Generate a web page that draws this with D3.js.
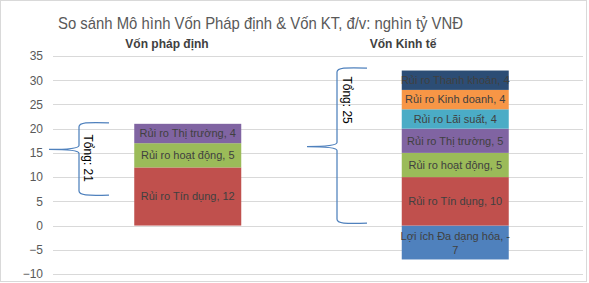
<!DOCTYPE html>
<html>
<head>
<meta charset="utf-8">
<script src="https://cdn.jsdelivr.net/npm/d3@7"></script>
<style>
  body { margin: 0; background: #fff; }
  svg { font-family: "Liberation Sans", Arial, sans-serif; }
</style>
</head>
<body>
<svg class="chart"></svg>
<script>
var categories = ["Vốn pháp định", "Vốn Kinh tế"];
var seriesNames = ["Lợi ích Đa dạng hóa", "Rủi ro Tín dụng", "Rủi ro hoạt động", "Rủi ro Thị trường",
                   "Rủi ro Lãi suất", "Rủi ro Kinh doanh", "Rủi ro Thanh khoản"];
var seriesValues = [
    [null, -7],
    [12, 10],
    [5, 5],
    [4, 5],
    [null, 4],
    [null, 4],
    [null, 4]
];
var seriesColors = ["#4F81BD", "#C0504D", "#9BBB59", "#8064A2", "#4BACC6", "#F79646", "#2C4D75"];
var yTicks = [-10, -5, 0, 5, 10, 15, 20, 25, 30, 35];
var totals = ["Tổng: 21", "Tổng: 25"];
// brace spans (top, tip, bottom) in axis units
var braces = [[21.2, 15.7, 6.3], [32.5, 16.3, 0.5]];

(function show() {
    'use strict';

    var width = 589, height = 283;
    var svg = d3.select(".chart").attr("width", width).attr("height", height);

    svg.append("rect")
        .attr("x", 0.5).attr("y", 0.5)
        .attr("width", width - 3).attr("height", height - 2)
        .attr("fill", "#fff").attr("stroke", "#d9d9d9");

    var x = d3.scaleBand().domain(categories).range([54, 589]).paddingInner(0).paddingOuter(0);
    var y = d3.scaleLinear().domain([-10, 35]).range([274, 56]);

    // gridlines
    svg.append("g").selectAll("line").data(yTicks).enter().append("line")
        .attr("x1", 53).attr("x2", 583)
        .attr("y1", function(d) { return Math.round(y(d)) + 0.5; })
        .attr("y2", function(d) { return Math.round(y(d)) + 0.5; })
        .attr("stroke", "#d9d9d9");

    // y axis labels
    var yAxis = d3.axisLeft(y).tickValues(yTicks).tickSize(0).tickPadding(0);
    var ga = svg.append("g").attr("transform", "translate(43,0)").call(yAxis);
    ga.select(".domain").remove();
    ga.selectAll("text").attr("fill", "#595959").style("font-size", "12px")
        .style("font-family", "Liberation Sans, Arial, sans-serif");

    // stacked data
    var rows = categories.map(function(c, i) {
        var r = { cat: c };
        seriesNames.forEach(function(s, j) { r[s] = seriesValues[j][i] || 0; });
        return r;
    });
    var stack = d3.stack().keys(seriesNames).offset(d3.stackOffsetDiverging);
    var layers = stack(rows);

    var barW = x.bandwidth() * 0.4;

    var lg = svg.append("g").selectAll("g").data(layers).enter().append("g")
        .attr("fill", function(d, i) { return seriesColors[i]; });

    lg.selectAll("rect")
        .data(function(d) { return d.filter(function(p) { return p[1] !== p[0]; }); })
        .enter().append("rect")
        .attr("x", function(d) { return x(d.data.cat) + (x.bandwidth() - barW) / 2; })
        .attr("width", barW)
        .attr("y", function(d) { return y(Math.max(d[0], d[1])); })
        .attr("height", function(d) { return Math.abs(y(d[0]) - y(d[1])); });

    // data labels
    var labels = [];
    layers.forEach(function(layer, j) {
        layer.forEach(function(p) {
            if (p[1] === p[0]) return;
            labels.push({ cat: p.data.cat, mid: (p[0] + p[1]) / 2,
                          text: seriesNames[j] + ", " + seriesValues[j][categories.indexOf(p.data.cat)] });
        });
    });
    var lt = svg.append("g").selectAll("text").data(labels).enter().append("text")
        .attr("x", function(d) { return x(d.cat) + x.bandwidth() / 2; })
        .attr("y", function(d) { return y(d.mid); })
        .attr("text-anchor", "middle")
        .attr("fill", "#404040")
        .style("font-size", "11px");
    lt.each(function(d) {
        var t = d3.select(this);
        var m = d.text.match(/^(.*-)(\d+)$/);
        if (m && d.text.length > 20) {
            t.append("tspan").attr("x", t.attr("x")).attr("dy", "-0.25em").text(m[1]);
            t.append("tspan").attr("x", t.attr("x")).attr("dy", "1.3em").text(m[2]);
        } else {
            t.attr("dy", "0.35em").text(d.text);
        }
    });

    // braces
    var bx = [[49, 79, 109], [307, 337, 367]];
    braces.forEach(function(b, i) {
        var xt = bx[i][0], xv = bx[i][1], xr = bx[i][2];
        var yt = y(b[0]), ym = y(b[1]), yb = y(b[2]);
        var r = 4;
        var p = d3.path();
        p.moveTo(xr, yt);
        p.bezierCurveTo(xv + 8, yt - 1, xv, yt, xv, yt + r);
        p.lineTo(xv, ym - r);
        p.quadraticCurveTo(xv, ym, xt, ym);
        p.quadraticCurveTo(xv, ym, xv, ym + r);
        p.lineTo(xv, yb - r);
        p.bezierCurveTo(xv, yb, xv + 8, yb + 1, xr, yb);
        svg.append("path").attr("d", p.toString())
            .attr("fill", "none").attr("stroke", "#4F81BD").attr("stroke-width", 1.25);
    });

    var tpos = [[88, y(13.9)], [347, y(25.9)]];
    totals.forEach(function(t, i) {
        svg.append("text")
            .attr("transform", "translate(" + tpos[i][0] + "," + tpos[i][1] + ") rotate(90)")
            .attr("text-anchor", "middle").attr("dy", "0.35em")
            .attr("fill", "#000").style("font-size", "12px")
            .text(t);
    });

    // title and category headers
    svg.append("text").attr("x", 58).attr("y", 29)
        .attr("textLength", 405).attr("lengthAdjust", "spacingAndGlyphs")
        .attr("fill", "#595959").style("font-size", "17px")
        .text("So sánh Mô hình Vốn Pháp định & Vốn KT, đ/v: nghìn tỷ VNĐ");

    var hx = [167, 403];
    svg.append("g").selectAll("text").data(categories).enter().append("text")
        .attr("x", function(d, i) { return hx[i]; })
        .attr("y", 48)
        .attr("text-anchor", "middle")
        .attr("fill", "#404040")
        .style("font-size", "12px").style("font-weight", "bold")
        .text(function(d) { return d; });
})();
</script>
</body>
</html>
